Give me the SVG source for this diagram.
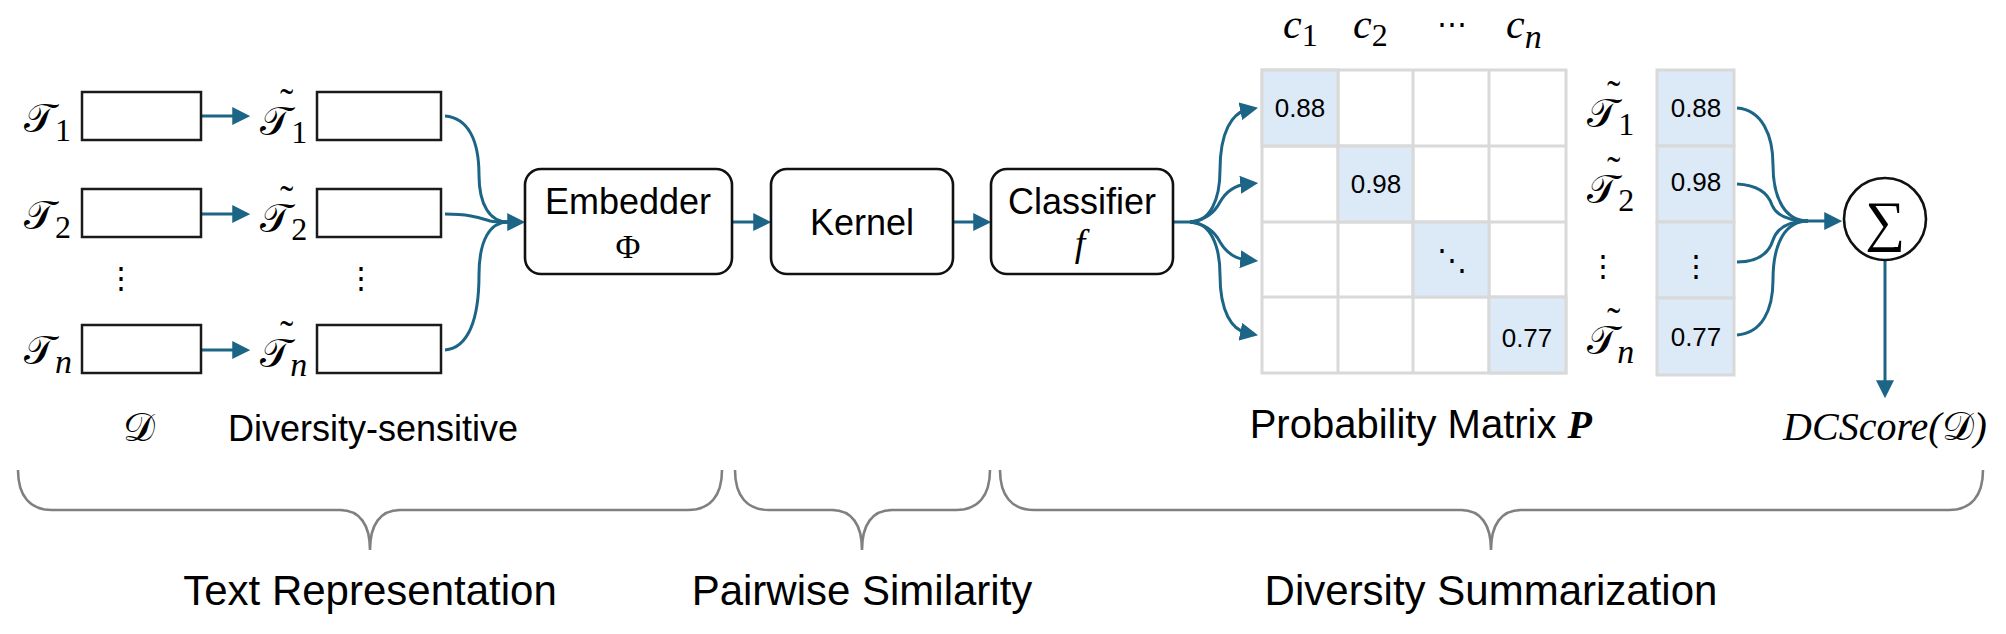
<svg xmlns="http://www.w3.org/2000/svg" width="2006" height="634" viewBox="0 0 2006 634">
<defs>
<style>
.box{fill:#fff;stroke:#1a1a1a;stroke-width:2.5}
.node{fill:#fff;stroke:#111;stroke-width:2.6}
.lbl{font-family:"Liberation Sans",Arial,sans-serif;fill:#000}
.math{font-family:"DejaVu Serif","DejaVu Sans","Noto Sans",serif;font-size:40px;fill:#000}
.sub{font-family:"Liberation Serif","Times New Roman",serif;font-size:32px;font-style:normal}
.subn{font-family:"Liberation Serif","Times New Roman",serif;font-size:34px;font-style:italic}
.tl{font-family:"Liberation Serif","Times New Roman",serif;font-size:40px}
.mi{font-family:"Liberation Serif","Times New Roman",serif;font-style:italic;fill:#000}
.num{font-family:"Liberation Sans",Arial,sans-serif;font-size:26px;text-anchor:middle;fill:#000}
.conn{fill:none;stroke:#1d6586;stroke-width:3}
.arr{marker-end:url(#ah)}
.gl{stroke:#d9d9d9;stroke-width:3}
.grid{fill:#fff;stroke:#d9d9d9;stroke-width:3}
.hl{fill:#dce9f6;stroke:#d9d9d9;stroke-width:3}
.brace{fill:none;stroke:#808080;stroke-width:2.6}
.big{font-family:"Liberation Sans",Arial,sans-serif;font-size:42px;text-anchor:middle;fill:#000}
</style>
<marker id="ah" markerUnits="userSpaceOnUse" markerWidth="18" markerHeight="18" refX="6" refY="8" orient="auto" viewBox="0 0 16 16">
<path d="M0,0 L16,8 L0,16 z" fill="#1d6586"/>
</marker>
</defs>
<rect width="2006" height="634" fill="#fff"/>

<g id="connectors">
<path class="conn arr" d="M201,116 L239,116"/>
<path class="conn arr" d="M201,214 L239,214"/>
<path class="conn arr" d="M201,350 L239,350"/>
<path class="conn" d="M445,116 C468,118 479,140 479,175 C479,205 490,222 508,222"/>
<path class="conn" d="M445,214 C470,214 480,218 490,221 C495,222 500,222 508,222"/>
<path class="conn" d="M445,350 C468,348 479,320 479,275 C479,240 490,222 508,222"/>
<path class="conn arr" d="M500,222 L514,222"/>
<path class="conn arr" d="M732,222 L760,222"/>
<path class="conn arr" d="M953,222 L980,222"/>
<path class="conn" d="M1173,222 L1192,222"/>
<path class="conn arr" d="M1190,222 C1210,222 1220,200 1220,170 C1220,132 1232,113 1247,110"/>
<path class="conn arr" d="M1190,222 C1205,220 1215,212 1220,202 C1227,190 1237,185 1247,184"/>
<path class="conn arr" d="M1190,222 C1205,224 1215,232 1220,242 C1227,254 1237,259 1247,260"/>
<path class="conn arr" d="M1190,222 C1210,222 1220,245 1220,275 C1220,312 1232,330 1247,333"/>
<path class="conn" d="M1737,108 C1762,110 1773,135 1773,165 C1773,200 1786,221 1808,221"/>
<path class="conn" d="M1737,184 C1758,185 1768,193 1772,205 C1777,217 1790,221 1808,221"/>
<path class="conn" d="M1737,262 C1758,262 1769,253 1773,240 C1778,226 1790,221 1808,221"/>
<path class="conn" d="M1737,335 C1762,333 1773,310 1773,280 C1773,242 1786,221 1808,221"/>
<path class="conn arr" d="M1805,221 L1831,221"/>
<path class="conn arr" d="M1885,260 L1885,387"/>
</g>

<g id="input-texts">
<rect class="box" x="82" y="92" width="119" height="48"/>
<rect class="box" x="82" y="189" width="119" height="48"/>
<rect class="box" x="82" y="325" width="119" height="48"/>
<text class="math" x="24" y="132">𝒯<tspan class="sub" dy="9">1</tspan></text>
<text class="math" x="24" y="229">𝒯<tspan class="sub" dy="9">2</tspan></text>
<text class="math" x="24" y="364">𝒯<tspan class="subn" dy="9">n</tspan></text>
<text class="lbl" x="121" y="288" font-size="30" text-anchor="middle">⋮</text>
<text class="math" x="139" y="441" font-size="44" text-anchor="middle">𝒟</text>
</g>

<g id="transformed-texts">
<rect class="box" x="317" y="92" width="124" height="48"/>
<rect class="box" x="317" y="189" width="124" height="48"/>
<rect class="box" x="317" y="325" width="124" height="48"/>
<text class="math" x="260" y="135">𝒯<tspan class="tl" dx="-11" dy="-19">˜</tspan><tspan class="sub" dx="-2" dy="27">1</tspan></text>
<text class="math" x="260" y="232">𝒯<tspan class="tl" dx="-11" dy="-19">˜</tspan><tspan class="sub" dx="-2" dy="27">2</tspan></text>
<text class="math" x="260" y="367">𝒯<tspan class="tl" dx="-11" dy="-19">˜</tspan><tspan class="subn" dx="-3" dy="28">n</tspan></text>
<text class="lbl" x="361" y="288" font-size="30" text-anchor="middle">⋮</text>
<text class="lbl" x="228" y="441" font-size="36">Diversity-sensitive</text>
</g>

<g id="embedder">
<rect class="node" x="525" y="169" width="207" height="105" rx="16"/>
<text class="lbl" x="628" y="214" font-size="36" text-anchor="middle">Embedder</text>
<text x="628" y="258" font-family="Liberation Serif,serif" font-size="34" text-anchor="middle">Φ</text>
</g>
<g id="kernel">
<rect class="node" x="771" y="169" width="182" height="105" rx="16"/>
<text class="lbl" x="862" y="235" font-size="36" text-anchor="middle">Kernel</text>
</g>
<g id="classifier">
<rect class="node" x="991" y="169" width="182" height="105" rx="16"/>
<text class="lbl" x="1082" y="214" font-size="36" text-anchor="middle">Classifier</text>
<text class="mi" x="1080" y="256" font-size="38" text-anchor="middle">f</text>
</g>

<g id="matrix">
<rect class="grid" x="1262" y="70" width="304" height="303"/>
<line class="gl" x1="1338" y1="70" x2="1338" y2="373"/>
<line class="gl" x1="1413" y1="70" x2="1413" y2="373"/>
<line class="gl" x1="1489" y1="70" x2="1489" y2="373"/>
<line class="gl" x1="1262" y1="146" x2="1566" y2="146"/>
<line class="gl" x1="1262" y1="222" x2="1566" y2="222"/>
<line class="gl" x1="1262" y1="297" x2="1566" y2="297"/>
<rect class="hl" x="1262" y="70" width="76" height="76"/>
<rect class="hl" x="1338" y="146" width="75" height="76"/>
<rect class="hl" x="1413" y="222" width="76" height="75"/>
<rect class="hl" x="1489" y="297" width="77" height="76"/>
<text class="num" x="1300" y="117">0.88</text>
<text class="num" x="1376" y="193">0.98</text>
<text class="lbl" x="1452" y="270" font-size="30" text-anchor="middle">⋱</text>
<text class="num" x="1527" y="347">0.77</text>
<text class="mi" x="1283" y="38" font-size="42">c<tspan class="sub" font-size="30" dy="8">1</tspan></text>
<text class="mi" x="1353" y="38" font-size="42">c<tspan class="sub" font-size="30" dy="8">2</tspan></text>
<text class="lbl" x="1452" y="34" font-size="30" text-anchor="middle">⋯</text>
<text class="mi" x="1506" y="38" font-size="42">c<tspan class="subn" font-size="32" dy="10">n</tspan></text>
<text class="lbl" x="1592" y="438" font-size="40" text-anchor="end">Probability Matrix <tspan font-family="Liberation Serif,serif" font-weight="bold" font-style="italic" font-size="40">P</tspan></text>
</g>

<g id="row-labels">
<text class="math" x="1587" y="127">𝒯<tspan class="tl" dx="-11" dy="-19">˜</tspan><tspan class="sub" dx="-2" dy="27">1</tspan></text>
<text class="math" x="1587" y="203">𝒯<tspan class="tl" dx="-11" dy="-19">˜</tspan><tspan class="sub" dx="-2" dy="27">2</tspan></text>
<text class="lbl" x="1603" y="276" font-size="30" text-anchor="middle">⋮</text>
<text class="math" x="1587" y="354">𝒯<tspan class="tl" dx="-11" dy="-19">˜</tspan><tspan class="subn" dx="-3" dy="28">n</tspan></text>
</g>
<g id="diag-column">
<rect class="hl" x="1657" y="70" width="77" height="76"/>
<rect class="hl" x="1657" y="146" width="77" height="76"/>
<rect class="hl" x="1657" y="222" width="77" height="76"/>
<rect class="hl" x="1657" y="298" width="77" height="77"/>
<text class="num" x="1696" y="117">0.88</text>
<text class="num" x="1696" y="191">0.98</text>
<text class="lbl" x="1696" y="276" font-size="30" text-anchor="middle">⋮</text>
<text class="num" x="1696" y="346">0.77</text>
</g>

<g id="sum">
<circle cx="1885" cy="219" r="41" fill="#fff" stroke="#111" stroke-width="2.6"/>
<text x="1885" y="240" font-family="Liberation Serif,serif" font-size="56" text-anchor="middle">∑</text>
</g>
<g id="score">
<text class="mi" x="1885" y="440" font-size="40" text-anchor="middle">DCScore(<tspan font-family="DejaVu Serif,DejaVu Sans,serif" font-style="normal">𝒟</tspan>)</text>
</g>

<g id="brace-text">
<path class="brace" d="M18,470 C18,496 30,510 52,510 L340,510 C360,510 370,525 370,550 C370,525 380,510 400,510 L688,510 C710,510 722,496 722,470"/>
<text class="big" x="370" y="605">Text Representation</text>
</g>
<g id="brace-pairwise">
<path class="brace" d="M735,470 C735,496 747,510 769,510 L832,510 C852,510 862,525 862,550 C862,525 872,510 892,510 L956,510 C978,510 990,496 990,470"/>
<text class="big" x="862" y="605">Pairwise Similarity</text>
</g>
<g id="brace-summary">
<path class="brace" d="M1000,470 C1000,496 1012,510 1034,510 L1461,510 C1481,510 1491,525 1491,550 C1491,525 1501,510 1521,510 L1949,510 C1971,510 1983,496 1983,470"/>
<text class="big" x="1491" y="605">Diversity Summarization</text>
</g>
</svg>
